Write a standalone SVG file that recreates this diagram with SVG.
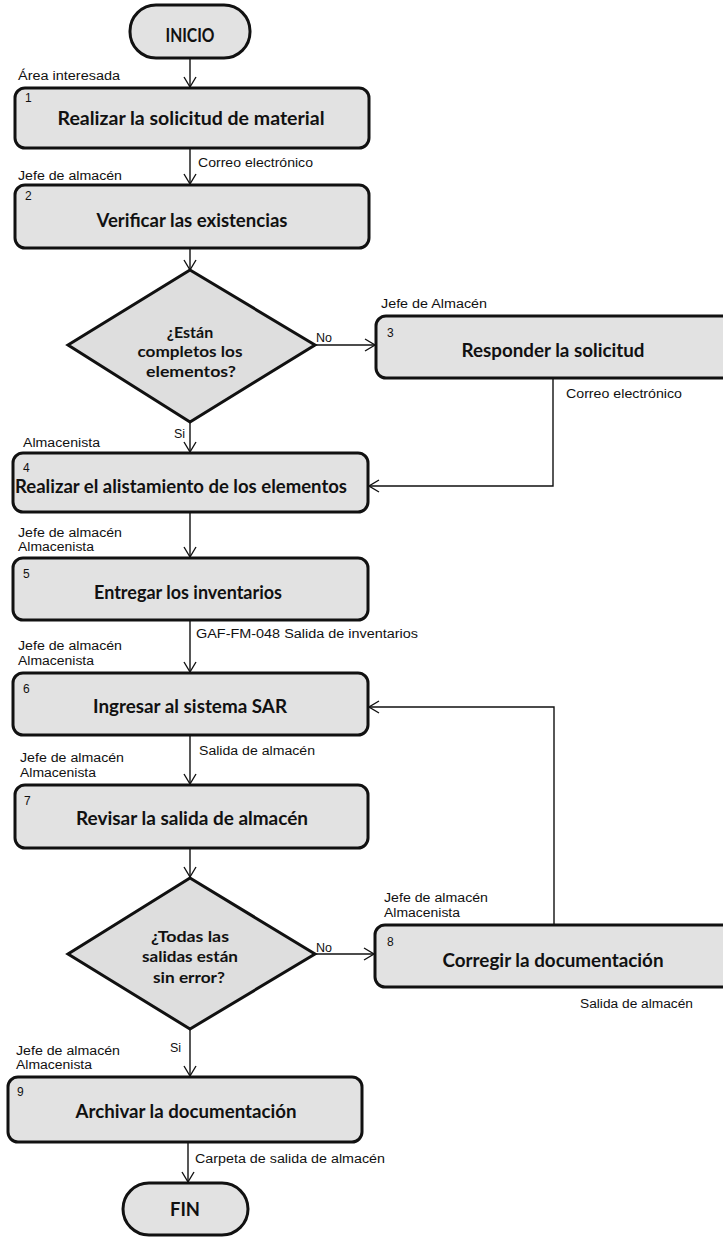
<svg xmlns="http://www.w3.org/2000/svg" width="723" height="1237" viewBox="0 0 723 1237">
<defs>
<marker id="arr" markerUnits="userSpaceOnUse" markerWidth="14" markerHeight="16" refX="11" refY="7" orient="auto">
<path d="M1,1 L11,7 L1,13" fill="none" stroke="#111" stroke-width="1.4"/>
</marker>
<style>
.box{fill:#e2e2e2;stroke:#111;stroke-width:3}
.dia{fill:#dedede;stroke:#111;stroke-width:3;stroke-linejoin:miter}
.ttl{font-family:Lato,"Liberation Sans",sans-serif;font-weight:bold;font-size:19px;fill:#111;text-anchor:middle}
.dt{font-family:Lato,"Liberation Sans",sans-serif;font-weight:bold;font-size:16px;fill:#111;text-anchor:middle}
.num{font-family:"Liberation Sans",Arial,sans-serif;font-size:12px;fill:#111}
.lbl{font-family:"Liberation Sans",Arial,sans-serif;font-size:12.5px;fill:#111}
.con{fill:none;stroke:#111;stroke-width:1.4}
</style>
</defs>
<rect width="723" height="1237" fill="#fff"/>

<g id="connectors">
<path class="con" d="M190,58 V87" marker-end="url(#arr)"/>
<path class="con" d="M190,148 V184" marker-end="url(#arr)"/>
<path class="con" d="M190,248 V270" marker-end="url(#arr)"/>
<path class="con" d="M315,345 H375" marker-end="url(#arr)"/>
<path class="con" d="M190,422 V452" marker-end="url(#arr)"/>
<path class="con" d="M553,378 V486 H369" marker-end="url(#arr)"/>
<path class="con" d="M190,512 V557" marker-end="url(#arr)"/>
<path class="con" d="M190,620 V672" marker-end="url(#arr)"/>
<path class="con" d="M190,735 V784" marker-end="url(#arr)"/>
<path class="con" d="M190,848 V877" marker-end="url(#arr)"/>
<path class="con" d="M315,954 H374" marker-end="url(#arr)"/>
<path class="con" d="M554,925 V707 H369" marker-end="url(#arr)"/>
<path class="con" d="M190,1029 V1076" marker-end="url(#arr)"/>
<path class="con" d="M188,1142 V1182" marker-end="url(#arr)"/>
<text class="lbl" x="198" y="167" textLength="115" lengthAdjust="spacingAndGlyphs">Correo electrónico</text>
<text class="lbl" x="316" y="342">No</text>
<text class="lbl" x="174" y="438">Si</text>
<text class="lbl" x="566" y="398" textLength="116" lengthAdjust="spacingAndGlyphs">Correo electrónico</text>
<text class="lbl" x="196" y="638" textLength="222" lengthAdjust="spacingAndGlyphs">GAF-FM-048 Salida de inventarios</text>
<text class="lbl" x="199" y="755" textLength="116" lengthAdjust="spacingAndGlyphs">Salida de almacén</text>
<text class="lbl" x="316" y="952">No</text>
<text class="lbl" x="170" y="1052">Si</text>
<text class="lbl" x="580" y="1008" textLength="113" lengthAdjust="spacingAndGlyphs">Salida de almacén</text>
<text class="lbl" x="195" y="1163" textLength="190" lengthAdjust="spacingAndGlyphs">Carpeta de salida de almacén</text>
</g>

<g id="inicio">
<rect class="box" x="130" y="5" width="120" height="53" rx="26"/>
<text class="ttl" x="190" y="42" font-size="18" textLength="49" lengthAdjust="spacingAndGlyphs">INICIO</text>
</g>

<g id="n1">
<text class="lbl" x="18" y="80" textLength="102" lengthAdjust="spacingAndGlyphs">Área interesada</text>
<rect class="box" x="15" y="88" width="354" height="60" rx="10"/>
<text class="num" x="25" y="102">1</text>
<text class="ttl" x="191" y="125" textLength="267" lengthAdjust="spacingAndGlyphs">Realizar la solicitud de material</text>
</g>

<g id="n2">
<text class="lbl" x="18" y="180" textLength="104" lengthAdjust="spacingAndGlyphs">Jefe de almacén</text>
<rect class="box" x="15" y="185" width="354" height="63" rx="10"/>
<text class="num" x="25" y="200">2</text>
<text class="ttl" x="192" y="227" textLength="191" lengthAdjust="spacingAndGlyphs">Verificar las existencias</text>
</g>

<g id="d1">
<polygon class="dia" points="190,270 315,345 190,422 68,345"/>
<text class="dt" x="190" y="338">¿Están</text>
<text class="dt" x="190" y="357" textLength="105" lengthAdjust="spacingAndGlyphs">completos los</text>
<text class="dt" x="191" y="377" textLength="90" lengthAdjust="spacingAndGlyphs">elementos?</text>
</g>

<g id="n3">
<text class="lbl" x="381" y="308" textLength="106" lengthAdjust="spacingAndGlyphs">Jefe de Almacén</text>
<rect class="box" x="376" y="316" width="360" height="62" rx="10"/>
<text class="num" x="387" y="337">3</text>
<text class="ttl" x="553" y="357" textLength="183" lengthAdjust="spacingAndGlyphs">Responder la solicitud</text>
</g>

<g id="n4">
<text class="lbl" x="23" y="447" textLength="77" lengthAdjust="spacingAndGlyphs">Almacenista</text>
<rect class="box" x="13" y="453" width="355" height="59" rx="10"/>
<text class="num" x="23" y="472">4</text>
<text class="ttl" x="181" y="493" textLength="332" lengthAdjust="spacingAndGlyphs">Realizar el alistamiento de los elementos</text>
</g>

<g id="n5">
<text class="lbl" x="18" y="537" textLength="104" lengthAdjust="spacingAndGlyphs">Jefe de almacén</text>
<text class="lbl" x="18" y="551" textLength="76" lengthAdjust="spacingAndGlyphs">Almacenista</text>
<rect class="box" x="13" y="558" width="355" height="62" rx="10"/>
<text class="num" x="23" y="578">5</text>
<text class="ttl" x="188" y="599" textLength="188" lengthAdjust="spacingAndGlyphs">Entregar los inventarios</text>
</g>

<g id="n6">
<text class="lbl" x="18" y="650" textLength="104" lengthAdjust="spacingAndGlyphs">Jefe de almacén</text>
<text class="lbl" x="18" y="665" textLength="76" lengthAdjust="spacingAndGlyphs">Almacenista</text>
<rect class="box" x="13" y="673" width="355" height="62" rx="10"/>
<text class="num" x="23" y="693">6</text>
<text class="ttl" x="190" y="713" textLength="194" lengthAdjust="spacingAndGlyphs">Ingresar al sistema SAR</text>
</g>

<g id="n7">
<text class="lbl" x="20" y="762" textLength="104" lengthAdjust="spacingAndGlyphs">Jefe de almacén</text>
<text class="lbl" x="20" y="777" textLength="76" lengthAdjust="spacingAndGlyphs">Almacenista</text>
<rect class="box" x="15" y="785" width="353" height="63" rx="10"/>
<text class="num" x="24" y="805">7</text>
<text class="ttl" x="192" y="825" textLength="232" lengthAdjust="spacingAndGlyphs">Revisar la salida de almacén</text>
</g>

<g id="d2">
<polygon class="dia" points="190,878 315,954 190,1029 68,954"/>
<text class="dt" x="190" y="942" textLength="78" lengthAdjust="spacingAndGlyphs">¿Todas las</text>
<text class="dt" x="190" y="962" textLength="96" lengthAdjust="spacingAndGlyphs">salidas están</text>
<text class="dt" x="189" y="983" textLength="72" lengthAdjust="spacingAndGlyphs">sin error?</text>
</g>

<g id="n8">
<text class="lbl" x="384" y="902" textLength="104" lengthAdjust="spacingAndGlyphs">Jefe de almacén</text>
<text class="lbl" x="384" y="917" textLength="76" lengthAdjust="spacingAndGlyphs">Almacenista</text>
<rect class="box" x="375" y="925" width="360" height="62" rx="10"/>
<text class="num" x="387" y="946">8</text>
<text class="ttl" x="553" y="967" textLength="221" lengthAdjust="spacingAndGlyphs">Corregir la documentación</text>
</g>

<g id="n9">
<text class="lbl" x="16" y="1055" textLength="104" lengthAdjust="spacingAndGlyphs">Jefe de almacén</text>
<text class="lbl" x="16" y="1069" textLength="76" lengthAdjust="spacingAndGlyphs">Almacenista</text>
<rect class="box" x="8" y="1077" width="354" height="65" rx="10"/>
<text class="num" x="17" y="1096">9</text>
<text class="ttl" x="186" y="1118" textLength="221" lengthAdjust="spacingAndGlyphs">Archivar la documentación</text>
</g>

<g id="fin">
<rect class="box" x="123" y="1183" width="125" height="52" rx="26"/>
<text class="ttl" x="185" y="1216" font-size="18" textLength="30" lengthAdjust="spacingAndGlyphs">FIN</text>
</g>
</svg>
